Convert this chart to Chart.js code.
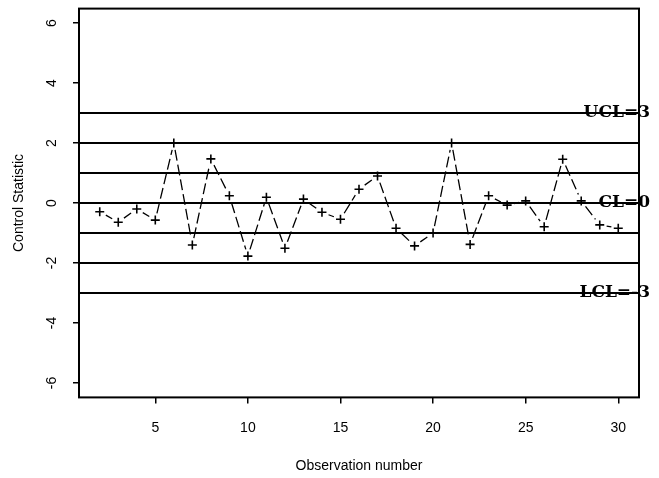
<!DOCTYPE html>
<html><head><meta charset="utf-8">
<script src="https://cdn.jsdelivr.net/npm/chart.js@4/dist/chart.umd.min.js"></script>
<style>html,body{margin:0;padding:0;background:#fff}#wrap{width:659px;height:478px}</style>
</head><body><div id="wrap"><canvas id="c" width="659" height="478"></canvas></div>
<script>
// ---- data ----
const observations = [2,3,4,5,6,7,8,9,10,11,12,13,14,15,16,17,18,19,20,21,22,23,24,25,26,27,28,29,30];
const controlStatistic = [-0.29,-0.64,-0.2,-0.57,2.0,-1.4,1.47,0.24,-1.77,0.19,-1.51,0.13,-0.31,-0.54,0.46,0.9,-0.84,-1.43,-1.0,2.0,-1.38,0.24,-0.07,0.07,-0.79,1.46,0.07,-0.73,-0.84];
const controlLevels = [3,2,1,0,-1,-2,-3];
const limitValues = [3,0,-3];
const limitLabels = ['UCL=3','CL=0','LCL=-3'];
const xTicks = [5,10,15,20,25,30];
const yTicks = [-6,-4,-2,0,2,4,6];
const xLimits = [0.88, 31.12];
const yLimits = [-6.48, 6.48];
const xTitle = 'Observation number';
const yTitle = 'Control Statistic';

const FONT = 'Liberation Sans, Arial, sans-serif';
const GAP = 7, DASH_ON = 11, DASH_OFF = 4;

const seriesData = observations.map((x,i)=>({x, y: controlStatistic[i]}));
const levelSets = controlLevels.map(v => ({
  data: [{x: xLimits[0], y: v}, {x: xLimits[1], y: v}],
  borderColor: '#000', borderWidth: 2, pointRadius: 0, fill: false, tension: 0
}));

// dashed segment with a gap around each point (R type="b" look)
function segDash(c){
  const L = Math.hypot(c.p1.x - c.p0.x, c.p1.y - c.p0.y);
  const g = Math.min(GAP, L/2);
  const visible = Math.max(L - 2*g, 0);
  const arr = [0, g];
  let used = 0;
  while (used < visible) {
    const on = Math.min(DASH_ON, visible - used);
    used += on;
    const off = Math.min(DASH_OFF, Math.max(visible - used, 0));
    used += off;
    arr.push(on, off);
  }
  arr[arr.length - 1] += g + 2;
  return arr;
}

const boxPlugin = {
  id: 'box',
  afterDraw(chart){
    const {ctx, chartArea:a} = chart;
    ctx.save(); ctx.strokeStyle = '#000'; ctx.lineWidth = 2;
    ctx.strokeRect(a.left, a.top, a.right - a.left, a.bottom - a.top);
    ctx.restore();
  }
};
const limitLabelPlugin = {
  id: 'limitLabels',
  afterDraw(chart){
    const {ctx, chartArea:a, scales:{y}} = chart;
    ctx.save();
    ctx.font = 'bold 17px "DejaVu Serif", serif';
    ctx.fillStyle = '#000'; ctx.textAlign = 'right'; ctx.textBaseline = 'middle';
    limitValues.forEach((v,i) => ctx.fillText(limitLabels[i], a.right + 11, y.getPixelForValue(v)));
    ctx.restore();
  }
};

new Chart(document.getElementById('c'), {
  type: 'line',
  data: {
    datasets: [{
      data: seriesData,
      borderColor: '#000', borderWidth: 1.3, fill: false, tension: 0,
      pointStyle: 'cross', pointRadius: 4.5, pointBorderWidth: 1.6,
      pointBorderColor: '#000', pointBackgroundColor: '#000',
      segment: { borderDash: segDash }
    }, ...levelSets]
  },
  options: {
    responsive: false, animation: false, events: [],
    layout: {padding: {left: 0, top: 8.6, right: 20, bottom: 0}},
    plugins: {legend: {display: false}, tooltip: {enabled: false}},
    scales: {
      x: {
        type: 'linear', position: 'bottom', min: xLimits[0], max: xLimits[1],
        afterBuildTicks: s => { s.ticks = xTicks.map(v => ({value: v})); },
        afterFit: s => { s.height = 80.6; s.paddingLeft = 0; s.paddingRight = 0; },
        grid: {display: true, drawOnChartArea: false, drawTicks: true, tickLength: 6, color: '#000', lineWidth: 1.5},
        border: {display: false},
        ticks: {color: '#000', font: {family: FONT, size: 14}, padding: 16, maxRotation: 0, minRotation: 0, autoSkip: false},
        title: {display: true, text: xTitle, color: '#000', font: {family: FONT, size: 14}, padding: {top: 0, bottom: 3.6}}
      },
      y: {
        type: 'linear', position: 'left', min: yLimits[0], max: yLimits[1],
        afterBuildTicks: s => { s.ticks = yTicks.map(v => ({value: v})); },
        afterFit: s => { s.width = 79; s.paddingTop = 0; s.paddingBottom = 0; },
        grid: {display: true, drawOnChartArea: false, drawTicks: true, tickLength: 6, color: '#000', lineWidth: 1.5},
        border: {display: false},
        ticks: {color: '#000', font: {family: FONT, size: 14}, padding: 15, minRotation: 90, maxRotation: 90, crossAlign: 'center', autoSkip: false},
        title: {display: true, text: yTitle, color: '#000', font: {family: FONT, size: 14}, padding: {top: 10.5, bottom: 0}}
      }
    }
  },
  plugins: [boxPlugin, limitLabelPlugin]
});
</script>
</body></html>
